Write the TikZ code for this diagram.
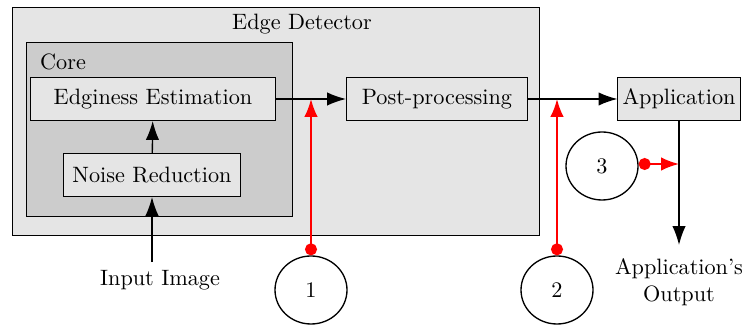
\documentclass[tikz,border=0pt]{standalone}
\usetikzlibrary{arrows.meta,shapes.geometric,positioning}

\begin{document}
\begin{tikzpicture}
[x=0.45pt,y=-0.45pt,semithick,>={Latex[length=8.5pt,width=6pt]},
block/.style={draw,thin,fill=black!10,minimum height=19.4pt,inner sep=2pt},
probe/.style={draw,ellipse,semithick,minimum width=32.4pt,minimum height=30.6pt},
tap/.style={red,thick,{Circle[length=5.4pt]}-{Latex[length=8pt,width=6pt]}}]

\useasboundingbox (0,0) rectangle (747,325);

% containers
\draw[thin,fill=black!10] (12,7) rectangle (539,235);
\node (edgedet) at (302,24) {Edge Detector};
\draw[thin,fill=black!20] (26,42) rectangle (292,216);
\node (core) at (63,62) {Core};

\node[block,minimum width=110pt] (est) at (153,99) {Edginess Estimation};
\node[block,minimum width=79.7pt] (noise) at (152,175) {Noise Reduction};
\node[block,minimum width=81.5pt] (post) at (437,99) {Post-processing};
\node[block,minimum width=55pt] (app) at (679,99) {Application};

\node (input) at (160,280) {Input Image};
\node[align=center] (output) at (679,282) {Application's\\Output};
\coordinate (inTop) at (noise |- input.north);
\coordinate (outEnd) at (679,245);
\coordinate (outTap) at (679,164);

\path[->]
\foreach \startNode/\endNode in {inTop/noise,noise/est,est/post,post/app,app/outEnd}{
	(\startNode) edge (\endNode)
};

\node[probe] (p1) at (311,290) {1};
\node[probe] (p2) at (557,290) {2};
\node[probe] (p3) at (602,166) {3};
\draw[tap] (p1) -- (p1 |- est.east);
\draw[tap] (p2) -- (p2 |- post.east);
\draw[tap] (p3.east |- outTap) -- (outTap);
\end{tikzpicture}
\end{document}
